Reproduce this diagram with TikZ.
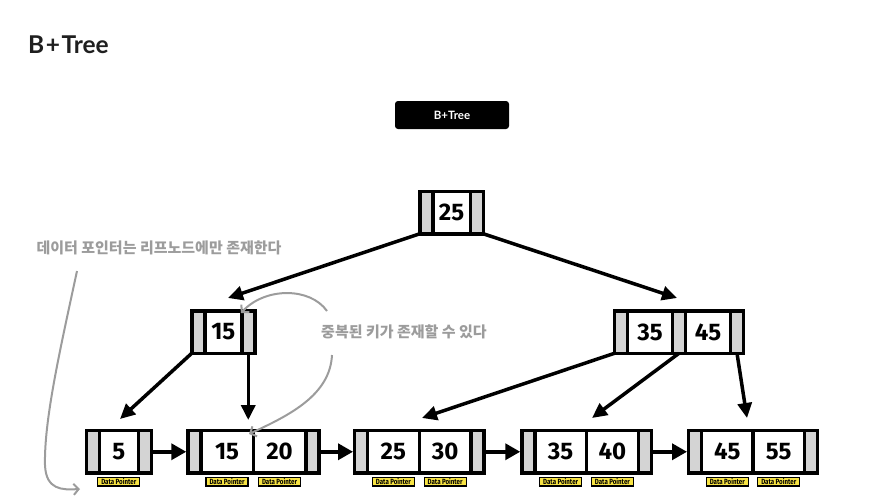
\documentclass[tikz,border=0pt]{standalone}
\usepackage{fontspec}
\setmainfont{Lato}
\newfontfamily\numfont{Fira Sans}
\newfontfamily\krfont{Noto Sans CJK KR}
\usetikzlibrary{arrows.meta,positioning}
\definecolor{ptrgray}{HTML}{D4D4D4}
\definecolor{dpyellow}{HTML}{F8E443}
\definecolor{annot}{HTML}{9C9C9C}
\tikzset{
  cell/.style={draw, line width=3.5pt, inner sep=0pt, outer sep=0pt, anchor=west, minimum height=42.5pt},
  ptr/.style={cell, fill=ptrgray, minimum width=13pt},
  key/.style={cell, fill=white, font=\numfont\bfseries\fontsize{24}{24}\selectfont},
  dp/.style={draw, line width=1.2pt, fill=dpyellow, inner sep=0pt, outer sep=0pt, minimum width=42pt, minimum height=8.5pt, anchor=north, font=\numfont\bfseries\fontsize{7.5}{7.5}\selectfont},
  treearrow/.style={line width=3.5pt, -{Triangle[length=15pt,width=14pt]}},
  leafarrow/.style={line width=3.5pt, -{Triangle[length=15pt,width=16pt]}, shorten >=1.5pt},
  note/.style={draw=annot, line width=2pt, -{Straight Barb[length=5pt,width=11pt]}},
  notetext/.style={text=annot, font=\krfont\bfseries\fontsize{15}{15}\selectfont, inner sep=0pt}
}
\newcommand{\dptext}{\scalebox{0.82}[1]{Data Pointer}}
\begin{document}
\begin{tikzpicture}[x=1pt,y=-1pt]
\useasboundingbox (0,0) rectangle (890,501);

% title
\node[anchor=base west, inner sep=0pt, font=\bfseries\fontsize{24.5}{24.5}\selectfont, text=black!88] (title) at (28,53.5) {B\kern1.5pt+\kern1.5pt Tree};
\node[fill=black, rounded corners=3pt, minimum width=114pt, minimum height=28pt, inner sep=0pt, text=white, font=\bfseries\fontsize{11.5}{11.5}\selectfont] (badge) at (452,115) {B+Tree};

% root
\begin{scope}[every node/.append style={minimum height=43.5pt}]
\node[ptr] (rP0) at (419.75,212.5) {};
\node[key, minimum width=37.5pt] (rK0) at (rP0.east) {25};
\node[ptr] (rP1) at (rK0.east) {};
\end{scope}

% level 2
\node[ptr] (aP0) at (191.75,332) {};
\node[key, minimum width=37pt] (aK0) at (aP0.east) {15};
\node[ptr] (aP1) at (aK0.east) {};

\node[ptr] (bP0) at (614.5,332) {};
\node[key, minimum width=45pt] (bK0) at (bP0.east) {35};
\node[ptr] (bP1) at (bK0.east) {};
\node[key, minimum width=45pt] (bK1) at (bP1.east) {45};
\node[ptr] (bP2) at (bK1.east) {};

% leaves
\begin{scope}[every node/.append style={minimum height=41pt}]
\node[ptr] (l1P0) at (86.25,451.75) {};
\node[key, minimum width=39pt] (l1K0) at (l1P0.east) {5};
\node[ptr] (l1P1) at (l1K0.east) {};

\node[ptr] (l2P0) at (187.75,451.75) {};
\node[key, minimum width=52.5pt] (l2K0) at (l2P0.east) {15};
\node[key, minimum width=52.5pt] (l2K1) at (l2K0.east) {20};
\node[ptr] (l2P1) at (l2K1.east) {};

\node[ptr] (l3P0) at (354.5,451.75) {};
\node[key, minimum width=51.75pt] (l3K0) at (l3P0.east) {25};
\node[key, minimum width=51.75pt] (l3K1) at (l3K0.east) {30};
\node[ptr] (l3P1) at (l3K1.east) {};

\node[ptr] (l4P0) at (521.75,451.75) {};
\node[key, minimum width=51.75pt] (l4K0) at (l4P0.east) {35};
\node[key, minimum width=51.75pt] (l4K1) at (l4K0.east) {40};
\node[ptr] (l4P1) at (l4K1.east) {};

\node[ptr] (l5P0) at (688.5,451.75) {};
\node[key, minimum width=51.5pt] (l5K0) at (l5P0.east) {45};
\node[key, minimum width=51.5pt] (l5K1) at (l5K0.east) {55};
\node[ptr] (l5P1) at (l5K1.east) {};
\end{scope}

% data pointers
\foreach \k/\n in {l1K0/d1, l2K0/d2, l2K1/d3, l3K0/d4, l3K1/d5, l4K0/d6, l4K1/d7, l5K0/d8, l5K1/d9}{
  \node[dp, below=4.5pt of \k] (\n) {\dptext};
}

% arrow tips
\coordinate (tA) at (228,298);
\coordinate (tB) at (677,298);
\coordinate (tC) at (120,419);
\coordinate (tD) at (248.25,420);
\coordinate (tE) at (422,418);
\coordinate (tF) at (592,418);
\coordinate (tG) at (747,418);

\draw[treearrow] (rP0.south west) -- (tA);
\draw[treearrow] (rP1.south east) -- (tB);
\draw[treearrow] (aP0.south west) -- (tC);
\draw[treearrow] (aP1.south) -- (tD);
\draw[treearrow] (bP0.south west) -- (tE);
\draw[treearrow] (bP1.south) -- (tF);
\draw[treearrow] (bP2.south) -- (tG);

% leaf links
\draw[leafarrow] (l1P1.east) -- (l2P0.west);
\draw[leafarrow] (l2P1.east) -- (l3P0.west);
\draw[leafarrow] (l3P1.east) -- (l4P0.west);
\draw[leafarrow] (l4P1.east) -- (l5P0.west);

% annotations
\node[notetext] (n1) at (159,248) {데이터 포인터는 리프노드에만 존재한다};
\node[notetext] (n2) at (404,331.5) {중복된 키가 존재할 수 있다};

\coordinate (c1s) at (77,271);
\coordinate (c1e) at (80,489);
\draw[note] (c1s) .. controls (60,350) and (44,420) .. (45,465) .. controls (46,490) and (62,490) .. (c1e);

\coordinate (c2s) at (327,311);
\coordinate (c2e) at (241,313);
\draw[note] (c2s) .. controls (310,287) and (265,287) .. (c2e);

\coordinate (c3s) at (332,355);
\coordinate (c3e) at (249,434);
\draw[note] (c3s) .. controls (330,395) and (290,415) .. (c3e);
\end{tikzpicture}
\end{document}
